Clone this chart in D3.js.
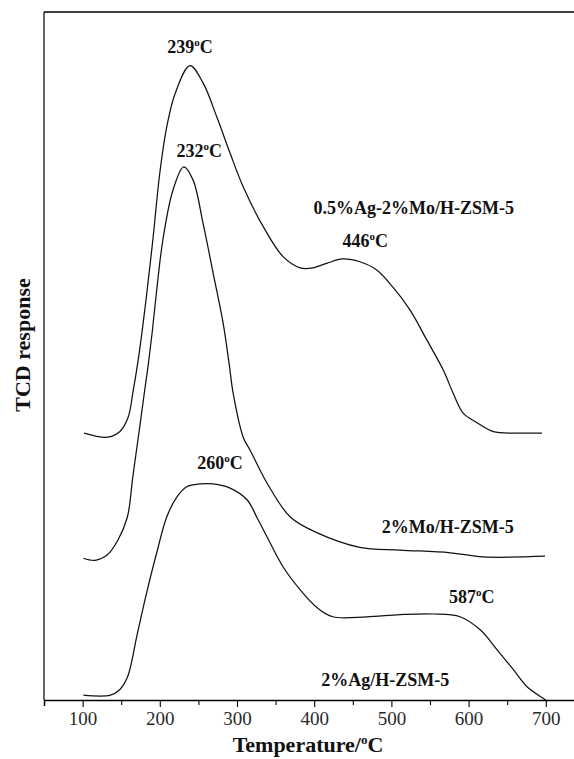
<!DOCTYPE html>
<html>
<head>
<meta charset="utf-8">
<script src="https://cdn.jsdelivr.net/npm/d3@7"></script>
<style>
  body { margin: 0; background: #fff; }
  svg { display: block; font-family: "Liberation Serif", "Times New Roman", serif; }
</style>
</head>
<body>
<div id="chart"></div>
<script>
// Temperatures (°C) and TCD response (a.u.)
const agMoTemp = [102, 132, 148, 159, 165, 172, 181, 191, 200, 209, 220, 239, 256, 274, 291, 308, 334, 360, 382, 398, 417, 437, 459, 481, 502, 524, 546, 567, 580, 593, 611, 632, 663, 695];
const agMoResp = [38.8, 38.2, 39.0, 41.1, 44.6, 49.4, 57.1, 66.9, 76.6, 83.3, 88.2, 92.2, 89.7, 84.7, 79.5, 74.6, 68.8, 64.4, 62.8, 62.8, 63.5, 64.1, 63.7, 62.5, 60.0, 56.7, 52.3, 48.0, 44.6, 41.7, 40.3, 39.0, 38.8, 38.8];

const moTemp = [101, 116, 132, 146, 158, 165, 174, 181, 185, 190, 196, 204, 217, 231, 243, 256, 269, 282, 290, 295, 308, 317, 330, 339, 369, 404, 459, 511, 576, 619, 699];
const moResp = [20.6, 20.3, 21.1, 23.3, 26.6, 32.4, 39.7, 45.5, 48.7, 53.3, 59.6, 66.9, 74.1, 77.5, 75.6, 69.3, 62.1, 54.8, 48.7, 44.6, 38.2, 36.3, 33.4, 31.5, 26.6, 24.3, 22.2, 21.8, 21.4, 20.8, 20.9];

const agTemp = [101, 136, 148, 158, 171, 183, 196, 209, 222, 235, 252, 269, 291, 313, 326, 339, 360, 382, 404, 424, 468, 511, 554, 589, 615, 637, 658, 676, 696, 700];
const agResp = [0.7, 0.7, 1.5, 3.3, 9.7, 15.6, 21.4, 26.6, 29.5, 31.0, 31.4, 31.4, 30.8, 29.1, 26.5, 23.7, 19.3, 16.0, 13.4, 12.1, 12.1, 12.4, 12.5, 12.1, 10.2, 7.3, 4.4, 1.9, 0.3, 0];

// x axis ticks
const tickValues = [50, 100, 150, 200, 250, 300, 350, 400, 450, 500, 550, 600, 650, 700, 750];
const tickLabels = [100, 200, 300, 400, 500, 600, 700];

// annotations: [text, superscript, rest, temperature, response]
const notes = [
  ["239", "o", "C", 239, 94.0],
  ["232", "o", "C", 251, 78.9],
  ["0.5%Ag-2%Mo/H-ZSM-5", "", "", 529, 70.6],
  ["446", "o", "C", 466, 65.8],
  ["260", "o", "C", 278, 33.6],
  ["2%Mo/H-ZSM-5", "", "", 573, 24.3],
  ["587", "o", "C", 604, 14.1],
  ["2%Ag/H-ZSM-5", "", "", 492, 2.0]
];

function init() {
    const width = 574;
    const height = 759;

    const svg = d3.select("#chart")
        .append("svg")
        .attr("width", width)
        .attr("height", height);

    const x = d3.scaleLinear().domain([50, 750]).range([44, 584.4]);
    const y = d3.scaleLinear().domain([0, 100]).range([700, 12]);

    // frame: left and top lines (right side is cut off in the picture)
    svg.append("line")
        .attr("x1", x(50)).attr("x2", x(50))
        .attr("y1", y(100)).attr("y2", y(0))
        .attr("stroke", "#000").attr("stroke-width", 1.2);
    svg.append("line")
        .attr("x1", x(50)).attr("x2", width)
        .attr("y1", y(100)).attr("y2", y(100))
        .attr("stroke", "#000").attr("stroke-width", 1.6);

    // bottom axis, major ticks labelled every 100
    const xAxis = d3.axisBottom(x)
        .tickValues(tickValues)
        .tickSizeOuter(0)
        .tickSize(6)
        .tickFormat(d => tickLabels.includes(d) ? d : "");

    const gx = svg.append("g")
        .attr("transform", `translate(0,${y(0)})`)
        .call(xAxis);
    gx.attr("font-size", null).attr("font-family", null);
    gx.select(".domain").attr("stroke-width", 1.4);
    gx.selectAll(".tick line")
        .attr("stroke-width", 1.1)
        .attr("y2", d => tickLabels.includes(d) ? 7 : 5);
    gx.selectAll(".tick text")
        .attr("y", 12)
        .style("font-family", "'Liberation Serif', serif")
        .style("font-size", "19px")
        .attr("fill", "#2a2a2a");

    // curves
    const line = d3.line()
        .x(d => x(d[0]))
        .y(d => y(d[1]))
        .curve(d3.curveCatmullRom.alpha(0.5));

    const series = [
        d3.zip(agMoTemp, agMoResp),
        d3.zip(moTemp, moResp),
        d3.zip(agTemp, agResp)
    ];

    svg.selectAll("path.curve")
        .data(series)
        .enter().append("path")
        .attr("class", "curve")
        .attr("d", line)
        .attr("fill", "none")
        .attr("stroke", "#111")
        .attr("stroke-width", 1.25);

    // annotations
    const labels = svg.selectAll("text.note")
        .data(notes)
        .enter().append("text")
        .attr("class", "note")
        .attr("x", d => x(d[3]))
        .attr("y", d => y(d[4]))
        .attr("text-anchor", "middle")
        .style("font-weight", "bold")
        .style("font-size", "18px")
        .attr("fill", "#111");
    labels.append("tspan").text(d => d[0]);
    labels.filter(d => d[1]).append("tspan")
        .attr("dy", -7)
        .style("font-size", "11px")
        .text(d => d[1]);
    labels.filter(d => d[2]).append("tspan")
        .attr("dy", 7)
        .text(d => d[2]);

    // axis titles
    const xt = svg.append("text")
        .attr("x", 308)
        .attr("y", 752)
        .attr("text-anchor", "middle")
        .style("font-weight", "bold")
        .style("font-size", "22px")
        .attr("fill", "#111");
    xt.append("tspan").text("Temperature/");
    xt.append("tspan").attr("dy", -8).style("font-size", "13px").text("o");
    xt.append("tspan").attr("dy", 8).text("C");

    svg.append("text")
        .attr("transform", "translate(30,345) rotate(-90)")
        .attr("text-anchor", "middle")
        .style("font-weight", "bold")
        .style("font-size", "22px")
        .attr("fill", "#111")
        .text("TCD response");
}
window.onload = init;
</script>
</body>
</html>
